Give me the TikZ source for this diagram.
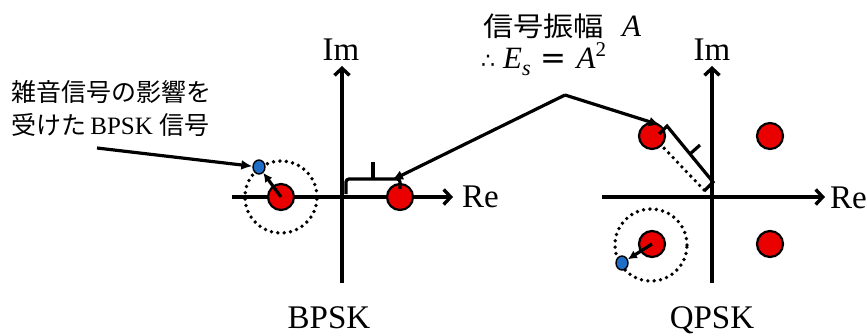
\documentclass[tikz,border=0pt]{standalone}
\usepackage{fontspec}
\setmainfont{Liberation Serif}
\newfontfamily\jp{Noto Sans CJK JP}
\newfontfamily\symfont{DejaVu Sans}
\usetikzlibrary{arrows.meta,shapes.geometric}
\definecolor{ptred}{RGB}{235,0,0}
\definecolor{ptblue}{RGB}{30,110,200}
\begin{document}
\begin{tikzpicture}[x=1pt,y=-1pt,
  axis/.style={line width=3.4pt,-{Straight Barb[length=7pt,width=15pt]}},
  ptnode/.style={circle,draw=black,line width=2.2pt,fill=ptred,minimum size=26pt,inner sep=0pt},
  noisenode/.style={ellipse,draw=black,line width=1.4pt,fill=ptblue,minimum width=12pt,minimum height=14pt,inner sep=0pt},
  dotc/.style={line width=3.8pt,dash pattern=on 0pt off 6.4pt,line cap=round},
  ptr/.style={line width=3.2pt,-{Latex[length=11pt,width=10pt]}},
  nptr/.style={line width=3.2pt,-{Latex[length=9pt,width=9pt]}},
  brk/.style={line width=3.2pt},
  lab/.style={font=\fontsize{33}{36}\selectfont,inner sep=0pt},
  jplab/.style={font=\fontsize{25}{28}\selectfont,inner sep=0pt}
]
\useasboundingbox (0,0) rectangle (867,335);

% ---------- BPSK ----------
\coordinate (bL) at (232,197);
\coordinate (bR) at (453,197);
\coordinate (bB) at (342,283);
\coordinate (bT) at (342,66);
\draw[axis] (bL) -- (bR);
\draw[axis] (bB) -- (bT);
\node[lab,anchor=base] (bIm) at (341,60) {Im};
\node[lab,anchor=base west] (bRe) at (462,207) {Re};
\node[lab,anchor=base] (blab) at (329,328) {BPSK};

\draw[dotc] (281,197) circle[radius=36pt];
\node[ptnode] (b1) at (281,197) {};
\node[ptnode] (b2) at (400,197) {};
\node[noisenode] (bn) at (259,167) {};
\draw[nptr] (b1.center) -- (bn);

\draw[brk,rounded corners=3pt] (346,194) -- (346,179) -- (400,179) -- (400,189);
\draw[brk] (373,179) -- (373,162);

% ---------- QPSK ----------
\coordinate (qL) at (602,197);
\coordinate (qR) at (825,197);
\coordinate (qB) at (712,283);
\coordinate (qT) at (712,66);
\draw[axis] (qL) -- (qR);
\draw[axis] (qB) -- (qT);
\node[lab,anchor=base] (qIm) at (712,60) {Im};
\node[lab,anchor=base west] (qRe) at (830,208) {Re};
\node[lab,anchor=base] (qlab) at (712,328) {QPSK};

\draw[dotc] (651,245) circle[radius=36pt];
\node[ptnode] (q1) at (652,136) {};
\node[ptnode] (q2) at (770,136) {};
\node[ptnode] (q3) at (652,244) {};
\node[ptnode] (q4) at (770,244) {};
\node[noisenode] (qn) at (622,263) {};
\draw[nptr] (q3.center) -- (qn);

\draw[brk] (659,134) -- (667,126) -- (713,182) -- (704,191);
\draw[brk] (690,154) -- (700,145);
\draw[dotc] (704,190) -- (662,146);

% ---------- labels and pointers ----------
\node[jplab,anchor=base west] (n1) at (11,101) {\jp 雑音信号の影響を};
\node[jplab,anchor=base west] (n2) at (11,134) {{\jp 受けた}\,BPSK {\jp 信号}};
\coordinate (ns) at (97,148);
\draw[ptr] (ns) -- (bn);

\node[anchor=base west,inner sep=0pt] (t1) at (483,36)
  {\scalebox{1.12}[1]{\fontsize{27}{30}\jp 信号振幅}\hspace{18pt}{\fontsize{31}{33}\selectfont\itshape A}};
\node[anchor=base west,inner sep=0pt] (t2) at (481,68)
  {\fontsize{31}{33}\selectfont{\symfont\fontsize{22}{24}\selectfont ∴}\hspace{8pt}{\itshape E}\raisebox{-7pt}{\fontsize{22}{24}\selectfont\itshape s}\hspace{10pt}{\symfont=}\hspace{10pt}{\itshape A}\raisebox{12pt}{\fontsize{21}{23}\selectfont 2}};

\coordinate (apex) at (565,95);
\coordinate (bt) at (392,180);
\coordinate (qt) at (660,125);
\draw[ptr] (apex) -- (bt);
\draw[ptr] (apex) -- (qt);
\end{tikzpicture}
\end{document}
